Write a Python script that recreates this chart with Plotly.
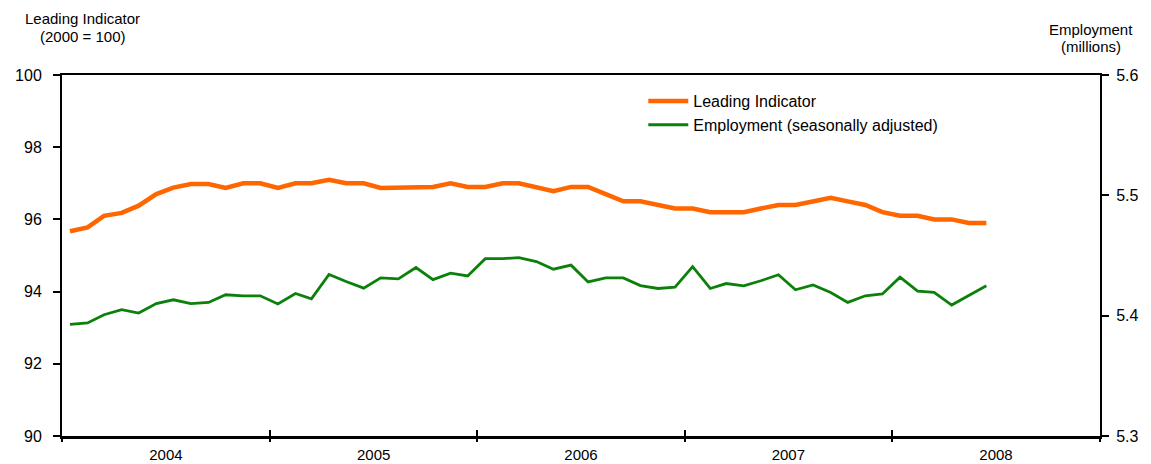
import pandas as pd
import plotly.graph_objects as go

# monthly observations, Jan 2004 - Jun 2008 (plotted mid-month)
months = pd.date_range('2004-01-01', periods=54, freq='MS') + pd.Timedelta(days=14)

leading_indicator = [
    95.67, 95.78, 96.10, 96.18, 96.38, 96.70, 96.88, 96.98, 96.98, 96.87,
    97.00, 97.00, 96.87, 97.00, 97.00, 97.10, 97.00, 97.00, 96.87, 96.87,
    96.90, 96.90, 97.00, 96.90, 96.90, 97.00, 97.00, 96.90, 96.78, 96.90,
    96.90, 96.70, 96.50, 96.50, 96.40, 96.30, 96.30, 96.20, 96.20, 96.20,
    96.30, 96.40, 96.40, 96.50, 96.60, 96.50, 96.40, 96.20, 96.10, 96.10,
    96.00, 96.00, 95.90, 95.90,
]

employment = [
    5.3928, 5.3940, 5.4008, 5.4050, 5.4022, 5.4100, 5.4132, 5.4100, 5.4110, 5.4174,
    5.4165, 5.4165, 5.4097, 5.4184, 5.4140, 5.4342, 5.4284, 5.4229, 5.4314, 5.4306,
    5.4400, 5.4300, 5.4353, 5.4330, 5.4474, 5.4474, 5.4482, 5.4450, 5.4386, 5.4420,
    5.4280, 5.4314, 5.4314, 5.4250, 5.4226, 5.4237, 5.4408, 5.4226, 5.4267, 5.4248,
    5.4290, 5.4340, 5.4215, 5.4256, 5.4193, 5.4110, 5.4165, 5.4180, 5.4320, 5.4204,
    5.4193, 5.4088, 5.4168, 5.4248,
]

font_family = 'Liberation Sans, Arial, sans-serif'

fig = go.Figure()
fig.add_trace(go.Scatter(x=months, y=leading_indicator, mode='lines',
                         name='Leading Indicator',
                         line=dict(color='#FF6600', width=4.5)))
fig.add_trace(go.Scatter(x=months, y=employment, mode='lines',
                         name='Employment (seasonally adjusted)',
                         line=dict(color='#0B800B', width=2.8), yaxis='y2'))

# page body adds an 8px offset, so the figure is 8px smaller each way
fig.update_layout(
    width=1143, height=456,
    margin=dict(l=54, r=51, t=67, b=28),
    plot_bgcolor='white', paper_bgcolor='white',
    font=dict(family=font_family, color='black', size=16),
    showlegend=True,
    legend=dict(x=0.56, y=0.975, xanchor='left', yanchor='top',
                bgcolor='rgba(0,0,0,0)', font=dict(size=16),
                itemwidth=40),
    xaxis=dict(type='date', range=['2004-01-01', '2009-01-01'],
               dtick='M12', tick0='2004-01-01', tickformat='%Y',
               ticklabelmode='period', ticks='outside', ticklen=3,
               tickwidth=1.5, tickcolor='black', ticklabelstandoff=0,
               tickfont=dict(size=15),
               showline=True, linecolor='black', linewidth=3, automargin=False,
               mirror=False, showgrid=False, zeroline=False),
    xaxis2=dict(type='date', range=['2004-01-01', '2009-01-01'],
                overlaying='x', side='bottom', anchor='y', automargin=False,
                dtick='M12', tick0='2004-01-01', ticks='inside', ticklen=6,
                tickwidth=1.5, tickcolor='black', showticklabels=False,
                showline=False, showgrid=False, zeroline=False),
    xaxis3=dict(type='date', range=['2004-01-01', '2009-01-01'],
                overlaying='x', side='top', anchor='y', automargin=False,
                showticklabels=False, ticks='', showline=True,
                linecolor='black', linewidth=1.5, showgrid=False, zeroline=False),
    yaxis=dict(range=[90, 100], dtick=2, ticks='outside', ticklen=7,
               tickwidth=1.5, tickcolor='black', ticklabelstandoff=8,
               showline=True, linecolor='black', linewidth=2, automargin=False,
               showgrid=False, zeroline=False),
    yaxis2=dict(range=[5.3, 5.6], dtick=0.1, tickformat='.1f',
                overlaying='y', side='right', ticks='outside', ticklen=7,
                tickwidth=1.5, tickcolor='black', ticklabelstandoff=4,
                showline=True, linecolor='black', linewidth=2, automargin=False,
                showgrid=False, zeroline=False),
)

# invisible anchors so the extra x axes are drawn
fig.add_trace(go.Scatter(x=[months[0]], y=[None], xaxis='x2', showlegend=False,
                         hoverinfo='skip'))
fig.add_trace(go.Scatter(x=[months[0]], y=[None], xaxis='x3', showlegend=False,
                         hoverinfo='skip'))

axis_titles = [
    ('Leading Indicator', 0.0193, 1.157),
    ('(2000 = 100)', 0.0193, 1.107),
    ('Employment', 0.991, 1.127),
    ('(millions)', 0.991, 1.080),
]
for text, ax, ay in axis_titles:
    fig.add_annotation(text=text, x=ax, y=ay, xref='paper', yref='paper',
                       xanchor='center', yanchor='middle', showarrow=False,
                       font=dict(size=15))

fig.write_html('out.html')
